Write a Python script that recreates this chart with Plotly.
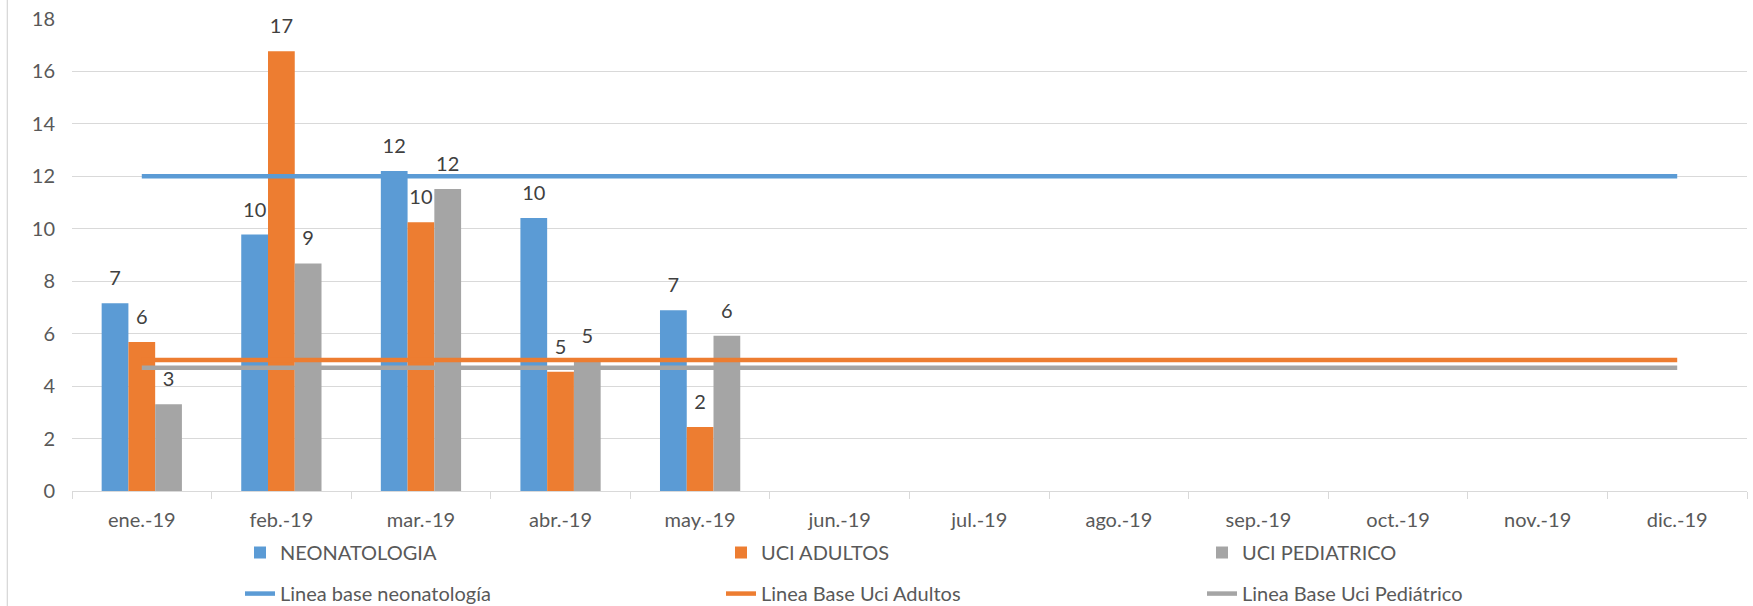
import plotly.graph_objects as go

# ---- data ----
months = ["ene.-19", "feb.-19", "mar.-19", "abr.-19", "may.-19", "jun.-19",
          "jul.-19", "ago.-19", "sep.-19", "oct.-19", "nov.-19", "dic.-19"]
bar_months = ["ene.-19", "feb.-19", "mar.-19", "abr.-19", "may.-19"]
neonatologia = [7.16, 9.78, 12.2, 10.41, 6.89]
uci_adultos = [5.68, 16.77, 10.25, 4.55, 2.44]
uci_pediatrico = [3.31, 8.68, 11.52, 4.95, 5.92]
base_neonatologia = [12, 12, 12, 12, 12, 12, 12, 12, 12, 12, 12, 12]
base_adultos = [5.0, 5.0, 5.0, 5.0, 5.0, 5.0, 5.0, 5.0, 5.0, 5.0, 5.0, 5.0]
base_pediatrico = [4.7, 4.7, 4.7, 4.7, 4.7, 4.7, 4.7, 4.7, 4.7, 4.7, 4.7, 4.7]

BLUE = "#5B9BD5"
ORANGE = "#ED7D31"
GRAY = "#A5A5A5"
FONT = "Lato"
TXT = "#595959"

# label = number at 20px, followed by a small spacer line that lifts it off the bar
LABEL_TEMPLATE = "<span style='font-size:20px'>%{y:.0f}</span><br>\u00a0"

fig = go.Figure()
for name, vals, col in [("NEONATOLOGIA", neonatologia, BLUE),
                        ("UCI ADULTOS", uci_adultos, ORANGE),
                        ("UCI PEDIATRICO", uci_pediatrico, GRAY)]:
    fig.add_trace(go.Bar(
        x=bar_months, y=vals, name=name, legend="legend",
        marker=dict(color=col, line=dict(width=0)),
        texttemplate=LABEL_TEMPLATE, textposition="outside",
        textfont=dict(family=FONT, size=10, color="#404040"),
        constraintext="none", cliponaxis=False,
    ))

for name, vals, col in [("Linea base neonatología", base_neonatologia, BLUE),
                        ("Linea Base Uci Adultos", base_adultos, ORANGE),
                        ("Linea Base Uci Pediátrico", base_pediatrico, GRAY)]:
    fig.add_trace(go.Scatter(
        x=months, y=vals, name=name, mode="lines", legend="legend2",
        line=dict(color=col, width=4.5),
    ))

legend_common = dict(orientation="h", xanchor="left", yanchor="top",
                     entrywidth=436, entrywidthmode="pixels",
                     font=dict(family=FONT, size=20, color=TXT),
                     traceorder="normal", bgcolor="rgba(0,0,0,0)")

fig.update_layout(
    width=1753, height=606, autosize=False,
    margin=dict(l=72, r=6, t=19, b=115, autoexpand=False),
    paper_bgcolor="white", plot_bgcolor="white",
    font=dict(family=FONT, size=20, color=TXT),
    barmode="group", bargap=0.425, bargroupgap=0,
    showlegend=True,
    legend=dict(x=0.1003, y=-0.089, **legend_common),
    legend2=dict(x=0.1003, y=-0.176, **legend_common),
)
fig.update_xaxes(type="category", categoryorder="array", categoryarray=months,
                 range=[-0.5, 11.5],
                 showline=True, linecolor="#D9D9D9", linewidth=1.3,
                 ticks="outside", tickson="boundaries", ticklen=7,
                 tickcolor="#D9D9D9", tickwidth=1.3, showgrid=False,
                 tickfont=dict(family=FONT, size=20, color=TXT),
                 ticklabelstandoff=11, fixedrange=True)
fig.update_yaxes(range=[0, 18], dtick=2, showgrid=True, gridcolor="#D9D9D9",
                 gridwidth=1.3, zeroline=False, showline=False,
                 tickfont=dict(family=FONT, size=20, color=TXT),
                 ticklabelstandoff=16, fixedrange=True)

# chart-area border on the left
fig.add_shape(type="line", xref="paper", yref="paper",
              x0=-0.0386, x1=-0.0386, y0=-0.3, y1=1.1,
              line=dict(color="#D9D9D9", width=1.3))

fig.write_html(
    "out.html",
    config={"displayModeBar": False},
    post_script=("document.documentElement.style.margin='0';"
                 "document.body.style.margin='0';"
                 "document.documentElement.style.overflow='hidden';"
                 "document.body.style.overflow='hidden';"),
)
